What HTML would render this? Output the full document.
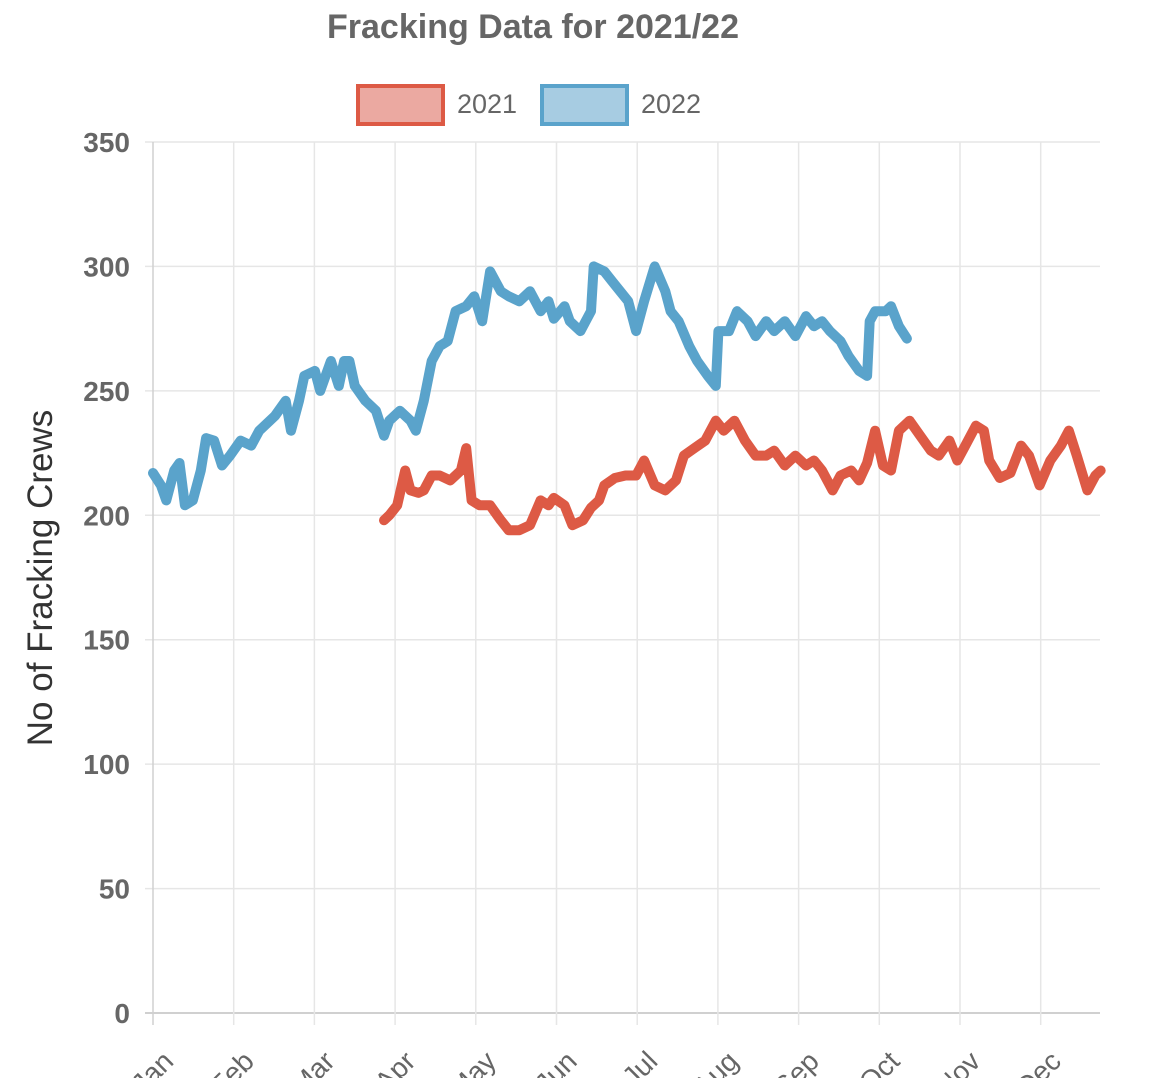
<!DOCTYPE html>
<html><head><meta charset="utf-8"><style>
body{margin:0;background:#fff;width:1150px;height:1078px;overflow:hidden}
svg text{font-family:"Liberation Sans",Arial,sans-serif}
</style></head><body>
<svg id="chart" width="1150" height="1078" xmlns="http://www.w3.org/2000/svg">
<text x="533" y="38" text-anchor="middle" font-size="34" font-weight="bold" fill="#666">Fracking Data for 2021/22</text>
<g>
<rect x="358" y="86" width="85" height="38" fill="#eba9a1" stroke="#dd5a45" stroke-width="4"/>
<text x="457" y="113" font-size="27" fill="#666">2021</text></g>
<g>
<rect x="542" y="86" width="85" height="38" fill="#a7cce2" stroke="#5aa3cb" stroke-width="4"/>
<text x="641" y="113" font-size="27" fill="#666">2022</text></g>
<g id="grid"></g>
<g id="axes"></g>
<g id="series"></g>
<text transform="translate(52,578) rotate(-90)" text-anchor="middle" font-size="35" fill="#333">No of Fracking Crews</text>
</svg>
<script>
const months=["Jan","Feb","Mar","Apr","May","Jun","Jul","Aug","Sep","Oct","Nov","Dec"];
const yTicks=[0,50,100,150,200,250,300,350];
const days2022=[0,3,5,8,10,12,15,18,20,23,26,29,33,37,40,42,46,50,52,55,57,61,63,67,70,72,74,76,80,84,87,89,93,97,99,102,105,108,111,114,118,121,124,127,131,134,138,142,146,149,151,155,157,161,165,166,170,173,176,179,182,185,189,193,195,198,202,205,209,212,213,217,220,224,227,231,234,238,242,246,249,252,255,259,262,266,269,270,272,276,278,281,284];
const vals2022=[217,212,206,218,221,204,206,218,231,230,220,224,230,228,234,236,240,246,234,246,256,258,250,262,252,262,262,252,246,242,232,238,242,238,234,246,262,268,270,282,284,288,278,298,290,288,286,290,282,286,279,284,278,274,282,300,298,294,290,286,274,286,300,290,282,278,268,262,256,252,274,274,282,278,272,278,274,278,272,280,276,278,274,270,264,258,256,278,282,282,284,276,271];
const days2021=[87,89,92,95,97,100,102,105,108,112,116,118,120,123,127,131,134,138,142,146,149,151,155,158,162,165,168,170,174,178,182,185,189,193,197,200,204,208,212,215,219,223,227,231,234,238,242,246,249,252,256,259,263,266,269,272,275,278,281,285,289,293,296,300,303,306,310,313,315,319,323,327,330,334,338,342,345,348,352,355,357];
const vals2021=[198,200,204,218,210,209,210,216,216,214,218,227,206,204,204,198,194,194,196,206,204,207,204,196,198,203,206,212,215,216,216,222,212,210,214,224,227,230,238,234,238,230,224,224,226,220,224,220,222,218,210,216,218,214,221,234,220,218,234,238,232,226,224,230,222,228,236,234,222,215,217,228,224,212,222,228,234,224,210,216,218];
const L=153,R=1100,T=142,B=1013,NS="http://www.w3.org/2000/svg";
const xDay=d=>L+d*(80.7/30.4);
const yV=v=>B-v*(B-T)/350;
function mk(t,a,p){const e=document.createElementNS(NS,t);for(const k in a)e.setAttribute(k,a[k]);p.appendChild(e);return e;}
const grid=document.getElementById('grid'),axes=document.getElementById('axes'),series=document.getElementById('series');
yTicks.forEach(v=>{
 const g=mk('line',{x1:L-8,x2:R,y1:yV(v),y2:yV(v),stroke:v===0?'#d0d0d0':'#e6e6e6','stroke-width':v===0?2:1.5},grid);
 
 
 const t=mk('text',{x:130,y:yV(v)+10,'text-anchor':'end','font-size':28,'font-weight':'bold',fill:'#666'},axes);
 t.textContent=v;
 
 
});
months.forEach((m,i)=>{
 const xx=L+i*80.7;
 const g=mk('line',{x1:xx,x2:xx,y1:T,y2:B+12,stroke:i===0?'#d0d0d0':'#e6e6e6','stroke-width':1.5},grid);
 
 
 const t=mk('text',{transform:`translate(${xx+22},${B+50}) rotate(-45)`,'text-anchor':'end','font-size':28,fill:'#666'},axes);
 t.textContent=m;
 
 
});
function drawLine(days,vals,color,name){
 const d=days.map((dd,i)=>(i?'L':'M')+xDay(dd).toFixed(1)+','+yV(vals[i]).toFixed(1)).join(' ');
 const p=mk('path',{d:d,fill:'none',stroke:color,'stroke-width':10,'stroke-linejoin':'round','stroke-linecap':'round'},series);
 
 
}
drawLine(days2021,vals2021,'#dd5a45','line-2021');
drawLine(days2022,vals2022,'#5aa3cb','line-2022');
</script>
</body></html>
